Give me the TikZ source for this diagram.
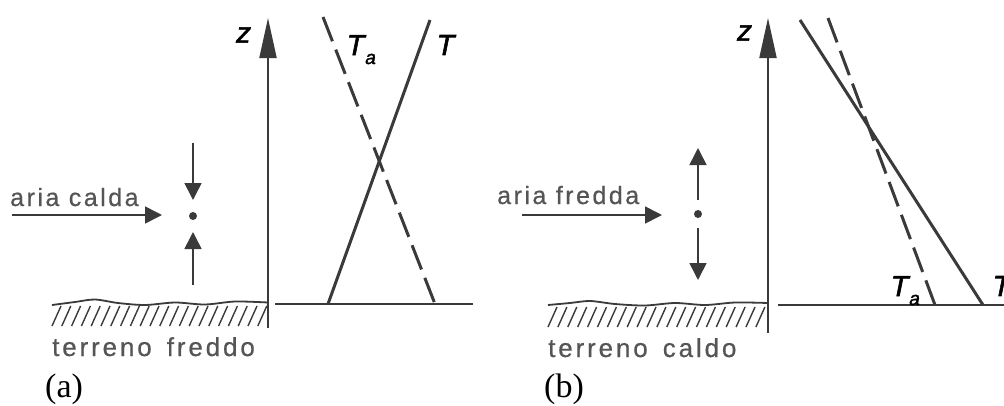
\documentclass[tikz,border=0pt]{standalone}
\usepackage{fontspec}
\setmainfont{Liberation Serif}
\newfontfamily\labsp[LetterSpace=10,FakeBold=0.6]{Liberation Sans}
\newfontfamily\labspw[LetterSpace=11,FakeBold=0.6]{Liberation Sans}
\newfontfamily\labit[FakeBold=2,FakeSlant=0.2]{Liberation Sans}
\usetikzlibrary{arrows.meta}
\definecolor{ink}{HTML}{3A3A3A}
\definecolor{txt}{HTML}{555555}
\newcommand{\Tsub}{T\kern1.5pt\raisebox{-9pt}{\fontsize{19}{20}\selectfont a}}
\tikzset{
  axisline/.style={draw=ink, line width=2pt, -{Triangle[length=40pt,width=17pt]}},
  baseline/.style={draw=ink, line width=2pt},
  solidT/.style={draw=ink, line width=3pt},
  dashT/.style={draw=ink, line width=3pt, dash pattern=on 26pt off 9pt},
  smallarrow/.style={draw=ink, line width=1.6pt, -{Triangle[length=17pt,width=17pt]}},
  ground/.style={draw=ink, line width=1.8pt},
  hatch/.style={draw=ink, line width=1.4pt},
  sanstext/.style={text=txt, font=\labsp\fontsize{25}{30}\selectfont, inner sep=0pt, anchor=base west},
  sanswide/.style={text=txt, font=\labspw\fontsize{26}{30}\selectfont, inner sep=0pt, anchor=base west},
  mathlab/.style={text=black, font=\labit\fontsize{29}{32}\selectfont, inner sep=0pt},
  panellab/.style={text=black, font=\fontsize{34}{38}\selectfont, inner sep=0pt, anchor=base west},
  dotmark/.style={fill=ink, circle, inner sep=0pt, minimum size=8pt}
}
\begin{document}
\begin{tikzpicture}[x=1pt,y=-1pt]
\useasboundingbox (0,0) rectangle (1004,405);
\clip (0,0) rectangle (1004,405);

% ================= panel (a) =================
\coordinate (aAxB) at (268,328);
\coordinate (aAxT) at (268,18);
\draw[axisline] (aAxB) -- (aAxT);
\node[mathlab] (az) at (242,35) {z};
\coordinate (aBL) at (275,304);
\coordinate (aBR) at (473,304);
\draw[baseline] (aBL) -- (aBR);
\coordinate (aT0) at (328,304);
\coordinate (aT1) at (430,20);
\draw[solidT] (aT0) -- (aT1);
\coordinate (aTa0) at (323,17);
\coordinate (aTa1) at (435,304);
\draw[dashT] (aTa0) -- (aTa1);
\node[mathlab, anchor=base west] (aTalab) at (345,55) {\Tsub};
\node[mathlab] (aTlab) at (444,45) {T};
% ground
\draw[ground] plot[smooth] coordinates {(52,305) (75,302) (95,299.5) (118,303) (145,305) (175,302.5) (205,304.5) (235,301.5) (268,302.5)};
\foreach \i in {0,...,21} {
  \draw[hatch] (52+\i*9.8,326) -- (61+\i*9.8,306);
}
\node[sanswide] (aterr) at (52,356) {terreno\hspace{5pt} freddo};
\node[panellab] (alab) at (45,397) {(a)};
% air
\node[sanstext] (aaria) at (10,206) {aria calda};
\coordinate (aArS) at (12,215);
\coordinate (aArE) at (162,215);
\draw[smallarrow] (aArS) -- (aArE);
\node[dotmark] (adot) at (193,216) {};
\coordinate (aDnS) at (193,143);
\coordinate (aDnE) at (193,200);
\draw[smallarrow] (aDnS) -- (aDnE);
\coordinate (aUpS) at (193,285);
\coordinate (aUpE) at (193,232);
\draw[smallarrow] (aUpS) -- (aUpE);

% ================= panel (b) =================
\coordinate (bAxB) at (768,333);
\coordinate (bAxT) at (768,18);
\draw[axisline] (bAxB) -- (bAxT);
\node[mathlab] (bz) at (743,33) {z};
\coordinate (bBL) at (778,305);
\coordinate (bBR) at (1004,305);
\draw[baseline] (bBL) -- (bBR);
\coordinate (bT0) at (800,20);
\coordinate (bT1) at (983,305);
\draw[solidT] (bT0) -- (bT1);
\coordinate (bTa0) at (828,18);
\coordinate (bTa1) at (935,305);
\draw[dashT] (bTa0) -- (bTa1);
\node[mathlab, anchor=base west] (bTalab) at (889,296) {\Tsub};
\node[mathlab] (bTlab) at (1000,286) {T};
% ground
\draw[ground] plot[smooth] coordinates {(548,305) (570,303) (590,301) (615,304) (645,305.5) (675,303) (705,305) (735,302.5) (768,303)};
\foreach \i in {0,...,21} {
  \draw[hatch] (548+\i*9.9,327) -- (557+\i*9.9,307);
}
\node[sanswide] (bterr) at (548,357) {terreno\hspace{5pt} caldo};
\node[panellab] (blab) at (544,397) {(b)};
% air
\node[sanstext] (baria) at (497,204) {aria fredda};
\coordinate (bArS) at (522,215);
\coordinate (bArE) at (662,215);
\draw[smallarrow] (bArS) -- (bArE);
\node[dotmark] (bdot) at (698,214) {};
\coordinate (bUpS) at (698,200);
\coordinate (bUpE) at (698,148);
\draw[smallarrow] (bUpS) -- (bUpE);
\coordinate (bDnS) at (698,228);
\coordinate (bDnE) at (698,280);
\draw[smallarrow] (bDnS) -- (bDnE);
\end{tikzpicture}
\end{document}
